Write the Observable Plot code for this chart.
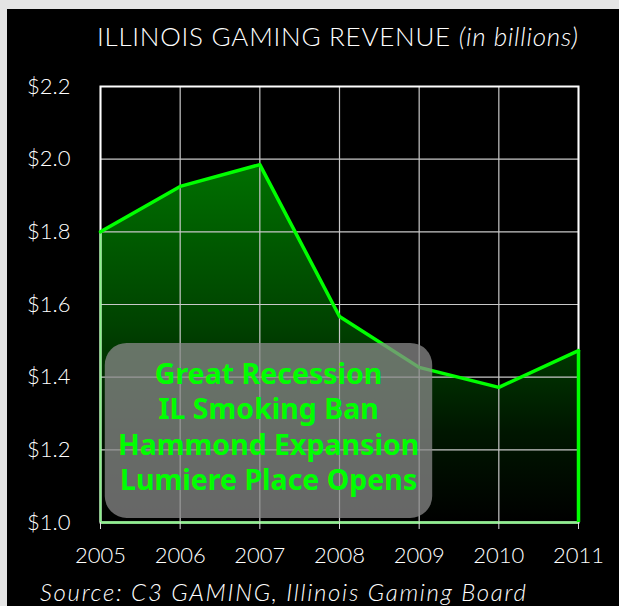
<!DOCTYPE html>
<html>
<head>
<meta charset="utf-8">
<script src="https://cdn.jsdelivr.net/npm/d3@7"></script>
<script src="https://cdn.jsdelivr.net/npm/@observablehq/plot@0.6"></script>
<style>
  html, body { margin: 0; padding: 0; }
  body { width: 619px; height: 606px; background: #000; position: relative; overflow: hidden; font-family: Lato, "Open Sans", sans-serif; }
  #bL { position: absolute; left: 0; top: 0; width: 7px; height: 606px; background: #e4e4e4; }
  #bT { position: absolute; left: 0; top: 0; width: 619px; height: 9px; background: #e4e4e4; }
  #title { position: absolute; left: 97px; top: 23px; color: #fff; font-size: 26px; font-weight: 300; letter-spacing: 0.75px; white-space: nowrap; line-height: 1; }
  #title i { font-style: italic; }
  #chart { position: absolute; left: 0; top: 60px; }
  #source { position: absolute; left: 40px; top: 580px; color: #fff; font-size: 24px; font-style: italic; font-weight: 300; letter-spacing: 1.7px; white-space: nowrap; line-height: 1; }
</style>
</head>
<body>
<div id="bL"></div><div id="bT"></div>
<div id="title">ILLINOIS GAMING REVENUE <i>(in billions)</i></div>
<div id="chart"></div>
<div id="source">Source: C3 GAMING, Illinois Gaming Board</div>
<script>
const years = [2005, 2006, 2007, 2008, 2009, 2010, 2011];
const revenue = [1.80, 1.925, 1.985, 1.567, 1.427, 1.372, 1.473];
const yTicks = [1.0, 1.2, 1.4, 1.6, 1.8, 2.0, 2.2];
const noteLines = ["Great Recession", "IL Smoking Ban", "Hammond Expansion", "Lumiere Place Opens"];
const noteBox = [{x1: 2005.06, x2: 2009.17, y1: 1.011, y2: 1.493}];
const noteAnchor = [{x: 2007.11, y: 1.266}];

const data = years.map((y, i) => ({year: y, value: revenue[i]}));
const last = data[data.length - 1];

const plot = Plot.plot({
  width: 619,
  height: 520,
  marginLeft: 100,
  marginRight: 41,
  marginTop: 26,
  marginBottom: 58,
  style: {background: "transparent", color: "#fff", fontFamily: "Lato, 'Open Sans', sans-serif", fontSize: "22px", fontWeight: 300, overflow: "visible"},
  x: {domain: [2005, 2011], ticks: years, tickFormat: "d"},
  y: {domain: [1.0, 2.2], ticks: yTicks},
  marks: [
    Plot.areaY(data, {x: "year", y1: 1.0, y2: "value", fill: "url(#revGrad)"}),
    Plot.gridX(years, {stroke: "#c8c8c8", strokeOpacity: 1, strokeWidth: 1.2}),
    Plot.gridY(yTicks, {stroke: "#c8c8c8", strokeOpacity: 1, strokeWidth: 1.2}),
    Plot.frame({stroke: "#fff", strokeWidth: 2}),
    Plot.ruleY([1.0], {x1: 2005, x2: 2011, stroke: "#8cf08c", strokeWidth: 2.5}),
    Plot.ruleX([2005], {y1: 1.0, y2: revenue[0], stroke: "#8cf08c", strokeWidth: 2}),
    Plot.ruleX([last], {x: "year", y1: 1.0, y2: "value", stroke: "#00ff00", strokeWidth: 3.5}),
    Plot.line(data, {x: "year", y: "value", stroke: "#00ff00", strokeWidth: 3.5}),
    Plot.rect(noteBox, {x1: "x1", x2: "x2", y1: "y1", y2: "y2", fill: "#8a8a8a", fillOpacity: 0.75, rx: 22}),
    Plot.text(noteAnchor, {x: "x", y: "y", text: () => noteLines.join("\n"), fill: "#00ff00", fontSize: 28.5, fontWeight: "bold", lineHeight: 1.245, fontFamily: "'Noto Sans', 'DejaVu Sans', sans-serif"}),
    Plot.axisX(years, {tickSize: 7, tickPadding: 18, tickFormat: "d", stroke: "#ddd", fill: "#fff", fontSize: 22, fontWeight: 300}),
    Plot.axisY(yTicks, {tickSize: 0, tickPadding: 30, tickFormat: d => "$" + d.toFixed(1), fill: "#fff", fontSize: 22, fontWeight: 300})
  ]
});

const svg = d3.select(plot);
const defs = svg.insert("defs", ":first-child");
const grad = defs.append("linearGradient").attr("id", "revGrad").attr("x1", 0).attr("y1", 0).attr("x2", 0).attr("y2", 1);
grad.append("stop").attr("offset", 0).attr("stop-color", "rgb(0,112,0)");
grad.append("stop").attr("offset", 0.45).attr("stop-color", "rgb(0,66,0)");
grad.append("stop").attr("offset", 0.75).attr("stop-color", "rgb(0,22,0)");
grad.append("stop").attr("offset", 1).attr("stop-color", "rgb(0,0,0)");

document.getElementById("chart").appendChild(plot);
</script>
</body>
</html>
